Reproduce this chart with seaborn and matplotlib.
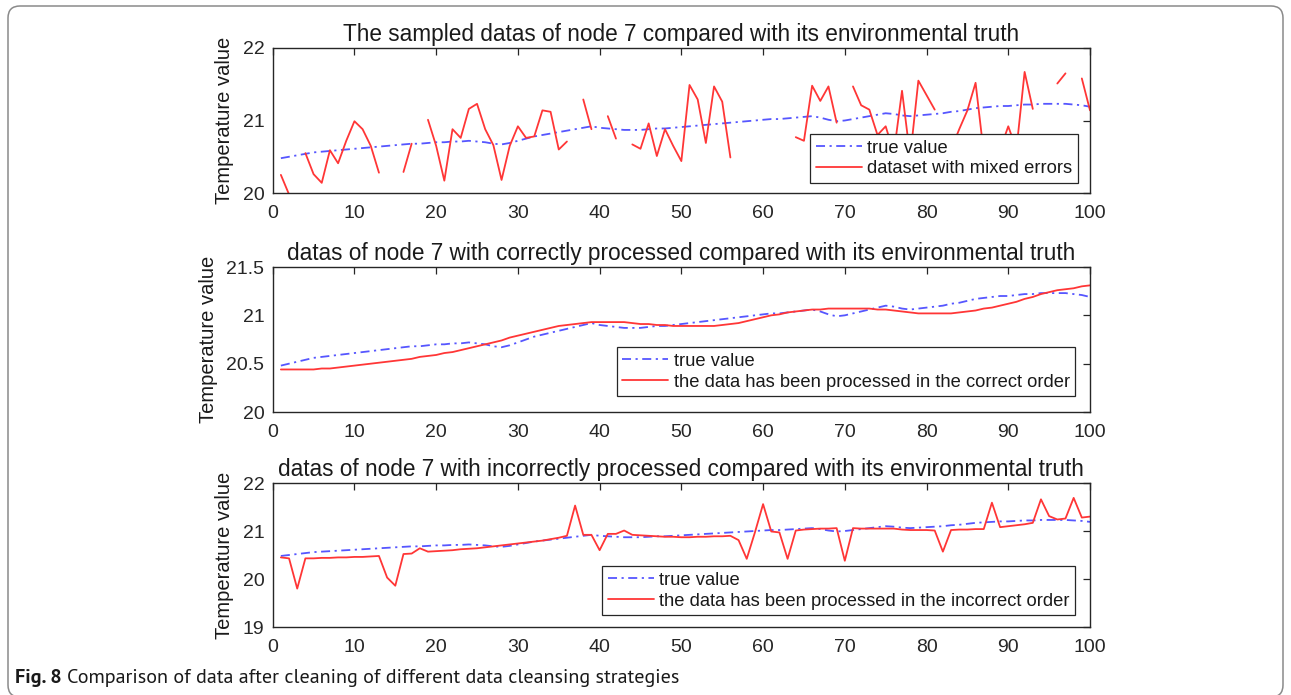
import numpy as np
import pandas as pd
import matplotlib
matplotlib.use("Agg")
import matplotlib.pyplot as plt
import seaborn as sns
from matplotlib.lines import Line2D
from matplotlib.patches import FancyBboxPatch
from matplotlib.transforms import IdentityTransform
from matplotlib import font_manager

nan = np.nan

x_values = list(range(1, 101))

true_value = [
    20.48, 20.50, 20.52, 20.54, 20.56, 20.57, 20.58, 20.59, 20.60, 20.61,
    20.62, 20.63, 20.64, 20.65, 20.66, 20.67, 20.68, 20.68, 20.69, 20.70,
    20.70, 20.71, 20.71, 20.72, 20.71, 20.70, 20.68, 20.67, 20.69, 20.72,
    20.75, 20.78, 20.80, 20.82, 20.84, 20.86, 20.88, 20.90, 20.92, 20.90,
    20.89, 20.88, 20.87, 20.87, 20.87, 20.88, 20.89, 20.89, 20.90, 20.91,
    20.92, 20.93, 20.94, 20.95, 20.96, 20.97, 20.98, 20.99, 21.00, 21.01,
    21.02, 21.02, 21.03, 21.04, 21.05, 21.06, 21.04, 21.01, 20.99, 21.00,
    21.02, 21.04, 21.06, 21.08, 21.10, 21.09, 21.07, 21.06, 21.07, 21.08,
    21.09, 21.10, 21.12, 21.13, 21.15, 21.17, 21.18, 21.19, 21.20, 21.20,
    21.21, 21.22, 21.22, 21.23, 21.23, 21.23, 21.23, 21.22, 21.21, 21.19,
]

mixed_errors = [
    20.25, 19.98, nan, 20.55, 20.26, 20.14, 20.59, 20.41, 20.72, 20.99,
    20.88, 20.65, 20.28, nan, nan, 20.29, 20.68, nan, 21.01, 20.65,
    20.17, 20.88, 20.76, 21.16, 21.23, 20.88, 20.66, 20.18, 20.65, 20.92,
    20.76, 20.78, 21.14, 21.12, 20.60, 20.71, nan, 21.29, 20.88, nan,
    21.06, 20.75, nan, 20.67, 20.61, 20.96, 20.51, 20.88, 20.65, 20.44,
    21.49, 21.29, 20.69, 21.47, 21.26, 20.49, nan, nan, nan, nan,
    nan, nan, nan, 20.77, 20.72, 21.48, 21.27, 21.47, 20.97, nan,
    21.47, 21.21, 21.15, 20.80, 20.92, 20.55, 21.41, 20.50, 21.55, 21.35,
    21.15, nan, 20.60, 20.88, 21.14, 21.52, 20.55, 20.70, 20.60, 20.92,
    20.60, 21.67, 21.16, nan, nan, 21.51, 21.65, nan, 21.58, 21.14,
]

correct_order = [
    20.44, 20.44, 20.44, 20.44, 20.44, 20.45, 20.45, 20.46, 20.47, 20.48,
    20.49, 20.50, 20.51, 20.52, 20.53, 20.54, 20.55, 20.57, 20.58, 20.59,
    20.61, 20.62, 20.64, 20.66, 20.68, 20.70, 20.72, 20.74, 20.77, 20.79,
    20.81, 20.83, 20.85, 20.87, 20.89, 20.90, 20.91, 20.92, 20.93, 20.93,
    20.93, 20.93, 20.93, 20.92, 20.91, 20.91, 20.90, 20.90, 20.89, 20.89,
    20.89, 20.89, 20.89, 20.89, 20.90, 20.91, 20.92, 20.94, 20.96, 20.98,
    21.00, 21.01, 21.03, 21.04, 21.05, 21.06, 21.06, 21.07, 21.07, 21.07,
    21.07, 21.07, 21.07, 21.06, 21.06, 21.05, 21.04, 21.03, 21.02, 21.02,
    21.02, 21.02, 21.02, 21.03, 21.04, 21.05, 21.07, 21.08, 21.10, 21.12,
    21.14, 21.17, 21.19, 21.22, 21.24, 21.26, 21.27, 21.28, 21.30, 21.31,
]

incorrect_order = [
    20.45, 20.43, 19.80, 20.43, 20.43, 20.44, 20.44, 20.45, 20.45, 20.46,
    20.46, 20.47, 20.48, 20.03, 19.86, 20.52, 20.53, 20.64, 20.57, 20.58,
    20.59, 20.60, 20.62, 20.63, 20.64, 20.66, 20.68, 20.70, 20.72, 20.74,
    20.76, 20.78, 20.80, 20.83, 20.86, 20.90, 21.53, 20.92, 20.92, 20.60,
    20.94, 20.94, 21.01, 20.92, 20.91, 20.90, 20.89, 20.88, 20.88, 20.87,
    20.87, 20.88, 20.88, 20.89, 20.89, 20.90, 20.81, 20.42, 20.97, 21.56,
    20.99, 20.97, 20.42, 21.01, 21.03, 21.04, 21.05, 21.05, 21.06, 20.38,
    21.06, 21.05, 21.05, 21.05, 21.05, 21.05, 21.03, 21.02, 21.02, 21.02,
    21.01, 20.57, 21.02, 21.03, 21.03, 21.04, 21.04, 21.59, 21.08, 21.10,
    21.12, 21.14, 21.17, 21.66, 21.31, 21.24, 21.26, 21.69, 21.28, 21.30,
]

titles = [
    "The sampled datas of node 7 compared with its environmental truth",
    "datas of node 7 with correctly processed compared with its environmental truth",
    "datas of node 7 with incorrectly processed compared with its environmental truth",
]
second_labels = [
    "dataset with mixed errors",
    "the data has been processed in the correct order",
    "the data has been processed in the incorrect order",
]
true_label = "true value"
y_label = "Temperature value"
y_ticks = [[20, 21, 22], [20, 20.5, 21, 21.5], [19, 20, 21, 22]]
y_tick_labels = [["20", "21", "22"], ["20", "20.5", "21", "21.5"], ["19", "20", "21", "22"]]
y_limits = [(20, 22), (20, 21.5), (19, 22)]
x_ticks = list(range(0, 101, 10))
caption_bold = "Fig. 8"
caption_text = "Comparison of data after cleaning of different data cleansing strategies"

BLUE = "#5656ff"
RED = "#ff3636"
AX_COL = "#262626"


def segmented(xs, ys):
    rows = []
    seg = 0
    prev_nan = True
    for xv, yv in zip(xs, ys):
        if yv is None or np.isnan(yv):
            if not prev_nan:
                seg += 1
            prev_nan = True
            continue
        rows.append((xv, yv, seg))
        prev_nan = False
    return pd.DataFrame(rows, columns=["x", "y", "seg"])


sns.set_style("white")
plt.rcParams["font.family"] = ["Liberation Sans", "DejaVu Sans"]

W, H = 1291, 695
fig = plt.figure(figsize=(W / 100, H / 100), dpi=100)

axes_px = [(48, 193), (267, 412), (483, 627)]
left_px, right_px = 272.7, 1090
legend_anchor = [(0.985, 0.069), (0.982, 0.110), (0.982, 0.083)]

series = [mixed_errors, correct_order, incorrect_order]
dash = (0, (5, 2.5, 1.2, 2.5))

for i in range(3):
    top, bot = axes_px[i]
    ax = fig.add_axes([left_px / W, 1 - bot / H, (right_px - left_px) / W, (bot - top) / H])
    df_true = pd.DataFrame({"x": x_values, "y": true_value})
    sns.lineplot(data=df_true, x="x", y="y", ax=ax, color=BLUE, lw=1.3,
                 linestyle=dash, legend=False, sort=False)
    df_red = segmented(x_values, series[i])
    sns.lineplot(data=df_red, x="x", y="y", units="seg", estimator=None, ax=ax,
                 color=RED, lw=1.3, legend=False, sort=False)
    ax.set_xlim(0, 100)
    ax.set_ylim(*y_limits[i])
    ax.set_xticks(x_ticks)
    ax.set_xticklabels([str(t) for t in x_ticks])
    ax.set_yticks(y_ticks[i])
    ax.set_yticklabels(y_tick_labels[i])
    ax.set_xlabel("")
    ax.set_ylabel(y_label, fontsize=14.5, color="#1a1a1a", labelpad=6)
    ax.set_title(titles[i], fontsize=16.3, color="#1a1a1a", pad=5)
    ax.tick_params(direction="in", length=5, width=0.9, colors=AX_COL,
                   labelsize=14, top=True, right=True)
    ax.tick_params(axis="x", pad=8.5)
    ax.tick_params(axis="y", pad=6)
    for s in ax.spines.values():
        s.set_visible(True)
        s.set_color(AX_COL)
        s.set_linewidth(1.0)
    handles = [Line2D([0], [0], color=BLUE, lw=1.3, linestyle=dash),
               Line2D([0], [0], color=RED, lw=1.3)]
    leg = ax.legend(handles, [true_label, second_labels[i]], loc="lower right",
                    bbox_to_anchor=legend_anchor[i], fontsize=13.2, frameon=True,
                    fancybox=False, framealpha=1, edgecolor=AX_COL,
                    borderpad=0.3, labelspacing=0.2, handlelength=2.5,
                    handletextpad=0.3, borderaxespad=0)
    leg.get_frame().set_linewidth(0.9)
    for t in leg.get_texts():
        t.set_color("#1a1a1a")

# outer rounded frame
frame = FancyBboxPatch((8, -2), W - 16, H - 6 + 2,
                       boxstyle="round,pad=0,rounding_size=12",
                       transform=IdentityTransform(), fill=False,
                       edgecolor="#8a8a8a", linewidth=1.1)
fig.add_artist(frame)

# caption in a Myriad-like sans that has static regular and bold files
static = {}
for f in font_manager.fontManager.ttflist:
    if "[" in f.fname or f.style != "normal":
        continue
    static.setdefault(f.name, set()).add(int(f.weight) if str(f.weight).isdigit() else f.weight)
cap_family = "Liberation Sans"
for cand in ["PT Sans", "Fira Sans", "Noto Sans", "Open Sans", "Lato"]:
    w = static.get(cand, set())
    if 400 in w and 700 in w:
        cap_family = cand
        break
cap_size = 14.5
cap_y = 1 - 678 / H
cap_x0, cap_x1 = 15, 690

t1 = fig.text(cap_x0 / W, cap_y, caption_bold, fontsize=cap_size, fontweight=700,
              family=[cap_family, "DejaVu Sans"], va="center", ha="left", color="#1a1a1a")
fig.canvas.draw()
bb = t1.get_window_extent()
t2 = fig.text((bb.x1 + 5) / W, cap_y, caption_text, fontsize=cap_size, fontweight=400,
              family=[cap_family, "DejaVu Sans"], va="center", ha="left", color="#1a1a1a")
fig.canvas.draw()
total = t2.get_window_extent().x1 - cap_x0
scale = (cap_x1 - cap_x0) / total
if abs(scale - 1) > 0.02:
    t1.set_fontsize(cap_size * scale)
    fig.canvas.draw()
    bb = t1.get_window_extent()
    t2.set_fontsize(cap_size * scale)
    t2.set_x((bb.x1 + 5 * scale) / W)

fig.savefig("out.png", dpi=100)
